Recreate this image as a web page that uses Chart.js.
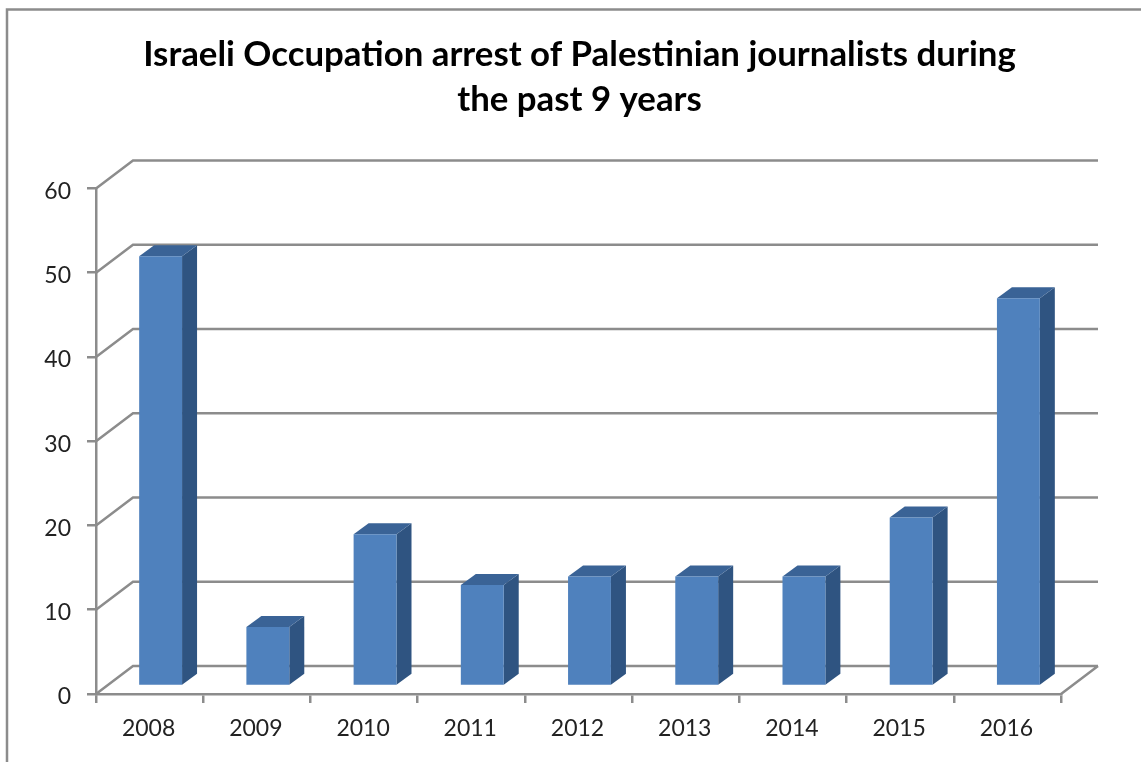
<!DOCTYPE html>
<html>
<head>
<meta charset="utf-8">
<title>Arrests chart</title>
<script src="https://cdn.jsdelivr.net/npm/chart.js@4"></script>
<style>
    html, body { margin: 0; padding: 0; background: #fff; overflow: hidden; }
    #wrap { width: 1141px; height: 762px; }
</style>
</head>
<body>
<div id="wrap"><canvas id="arrestsChart"></canvas></div>
<script>
// Values
const years = ['2008', '2009', '2010', '2011', '2012', '2013', '2014', '2015', '2016'];
const arrests = [51, 7, 18, 12, 13, 13, 13, 20, 46];
const titleLines = ['Israeli Occupation arrest of Palestinian journalists during', 'the past 9 years'];

const axisColor = '#8c8c8c';

// Fake 3D look of the old office chart: back wall, floor and bar sides
const depthPlugin = {
    id: 'depth',
    afterLayout(chart) {
        // title is centred a bit right of the plot in the original
        chart.titleBlock.left = 98;
        chart.titleBlock.right = 1061;
    },
    beforeDraw(chart) {
        // outer frame, only left and top are inside the crop
        const ctx = chart.ctx;
        ctx.save();
        ctx.strokeStyle = axisColor;
        ctx.lineWidth = 2.5;
        ctx.beginPath();
        ctx.moveTo(7, 762);
        ctx.lineTo(7, 9.5);
        ctx.lineTo(1141, 9.5);
        ctx.stroke();
        ctx.restore();
    },
    beforeDatasetsDraw(chart) {
        const ctx = chart.ctx;
        const { left, right } = chart.chartArea;
        const yScale = chart.scales.y;
        const dx = 37, dy = 28;

        ctx.save();
        ctx.strokeStyle = axisColor;
        ctx.lineWidth = 2.5;
        yScale.ticks.forEach((t, i) => {
            const y = yScale.getPixelForTick(i);
            ctx.beginPath();
            ctx.moveTo(left, y);
            ctx.lineTo(left + dx, y - dy);
            ctx.lineTo(right + dx, y - dy);
            if (t.value === 0) ctx.moveTo(right, y), ctx.lineTo(right + dx, y - dy);
            ctx.stroke();
        });
        ctx.restore();

        // bars stand on the floor, a bit behind the front edge
        ctx.save();
        ctx.translate(11, -8);
        const barDx = 15, barDy = 11;
        chart.getDatasetMeta(0).data.forEach(bar => {
            const l = bar.x - bar.width / 2, r = bar.x + bar.width / 2;
            ctx.fillStyle = '#2f5481';
            ctx.beginPath();
            ctx.moveTo(r, bar.y);
            ctx.lineTo(r + barDx, bar.y - barDy);
            ctx.lineTo(r + barDx, bar.base - barDy);
            ctx.lineTo(r, bar.base);
            ctx.closePath();
            ctx.fill();
            ctx.fillStyle = '#3a6396';
            ctx.beginPath();
            ctx.moveTo(l, bar.y);
            ctx.lineTo(l + barDx, bar.y - barDy);
            ctx.lineTo(r + barDx, bar.y - barDy);
            ctx.lineTo(r, bar.y);
            ctx.closePath();
            ctx.fill();
        });
    },
    afterDatasetsDraw(chart) {
        chart.ctx.restore();
    }
};

new Chart(document.getElementById('arrestsChart'), {
    type: 'bar',
    data: {
        labels: years,
        datasets: [{
            data: arrests,
            backgroundColor: '#4f81bd',
            borderWidth: 0,
            categoryPercentage: 1,
            barPercentage: 0.4,
            clip: false
        }]
    },
    options: {
        responsive: true,
        maintainAspectRatio: false,
        animation: false,
        layout: { padding: { top: 33, left: 0, right: 80, bottom: 0 } },
        plugins: {
            legend: { display: false },
            tooltip: { enabled: false },
            title: {
                display: true,
                text: titleLines,
                color: '#000',
                font: { family: "'Lato', sans-serif", size: 34.8, weight: 'bold', lineHeight: 1.27 },
                padding: { top: 0, bottom: 67 }
            }
        },
        scales: {
            x: {
                afterFit(scale) { scale.height = 68; },
                grid: { drawOnChartArea: false, color: axisColor, lineWidth: 2.5, tickLength: 9 },
                border: { color: axisColor, width: 2.5 },
                ticks: { color: '#222', font: { family: "'Lato', sans-serif", size: 23 }, padding: 12, labelOffset: -1 }
            },
            y: {
                min: 0,
                max: 60,
                afterFit(scale) { scale.width = 96; },
                grid: { drawOnChartArea: false, color: axisColor, lineWidth: 2.5, tickLength: 9 },
                border: { color: axisColor, width: 2.5 },
                ticks: { stepSize: 10, color: '#222', font: { family: "'Lato', sans-serif", size: 23 }, padding: 16, labelOffset: 3 }
            }
        }
    },
    plugins: [depthPlugin]
});
</script>
</body>
</html>
